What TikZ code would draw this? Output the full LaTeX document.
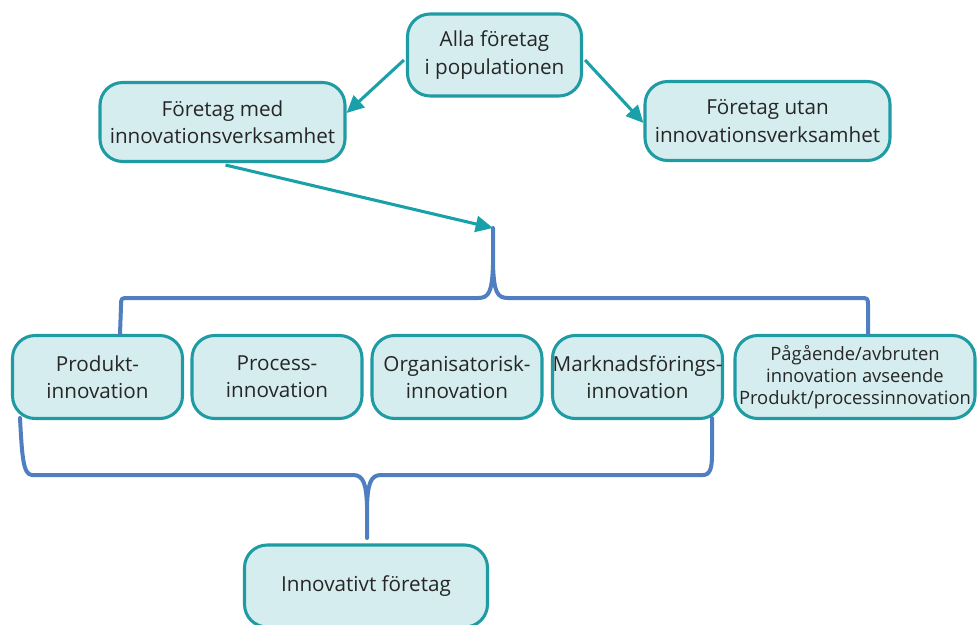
\documentclass[tikz,border=0pt]{standalone}
\usepackage{fontspec}
\setmainfont{Open Sans}
\usetikzlibrary{arrows.meta}
\definecolor{boxfill}{HTML}{D6EDEF}
\definecolor{boxline}{HTML}{1E9BA3}
\definecolor{arrowc}{HTML}{1AA0A8}
\definecolor{bracec}{HTML}{4F7FC0}
\tikzset{
  box/.style={draw=boxline, fill=boxfill, line width=2.3pt, rounded corners=17pt,
    align=center, inner sep=0pt, font=\fontsize{15.5}{20.5}\selectfont, text=black!85},
  conn/.style={draw=arrowc, line width=2.3pt, -{Triangle[length=13pt,width=12pt]}},
  brace/.style={draw=bracec, line width=3pt, line cap=round, line join=round}
}
\begin{document}
\begin{tikzpicture}[x=0.75pt,y=-0.75pt]
\useasboundingbox (0,0) rectangle (977,624);
% boxes
\node[box, minimum width=174*0.75pt, minimum height=82*0.75pt] (alla) at (494.5,55) {Alla företag\\i populationen};
\node[box, minimum width=245*0.75pt, minimum height=79*0.75pt] (med) at (222.5,122) {Företag med\\innovationsverksamhet};
\node[box, minimum width=245*0.75pt, minimum height=79*0.75pt] (utan) at (767.5,121) {Företag utan\\innovationsverksamhet};
\node[box, minimum width=170*0.75pt, minimum height=83*0.75pt] (prod) at (97.5,377) {Produkt-\\innovation};
\node[box, minimum width=170*0.75pt, minimum height=83*0.75pt] (proc) at (277,377) {Process-\\innovation};
\node[box, minimum width=170*0.75pt, minimum height=83*0.75pt] (org) at (457,377) {Organisatorisk-\\innovation};
\node[box, minimum width=170*0.75pt, minimum height=83*0.75pt] (mark) at (637.5,377) {Marknadsförings-\\innovation};
\node[box, minimum width=240*0.75pt, minimum height=83*0.75pt, font=\fontsize{13.8}{16.5}\selectfont] (pag) at (855,377) {Pågående/avbruten\\innovation avseende\\Produkt/processinnovation};
\node[box, minimum width=243*0.75pt, minimum height=82*0.75pt] (inn) at (366,586) {Innovativt företag};
% brace coordinates
\coordinate (ttip) at (493,228);
\coordinate (btip) at (367,538);
% top brace
\draw[brace] (120,334) -- (121,306) .. controls (121,298) .. (129,298) -- (478,298)
  .. controls (489,298) and (492,292) .. (493,265) -- (ttip)
  (493,265) .. controls (494,292) and (497,298) .. (508,298) -- (860,298)
  .. controls (868,298) .. (868,306) -- (868,334);
% bottom brace
\draw[brace] (20,418) .. controls (22,455) and (23,475) .. (32,475) -- (353,475)
  .. controls (364,475) and (366,485) .. (367,505) -- (btip)
  (367,505) .. controls (368,485) and (370,475) .. (381,475) -- (703,475)
  .. controls (710,475) and (712,468) .. (712,455) -- (712,418);
% arrows
\draw[conn] (alla.west) ++(-2,5) -- (med.east |- 0,113);
\draw[conn] (alla.east) ++(2,5) -- (utan.west |- 0,123);
\draw[conn] (med.south) ++(3,2) -- (ttip);
\end{tikzpicture}
\end{document}
